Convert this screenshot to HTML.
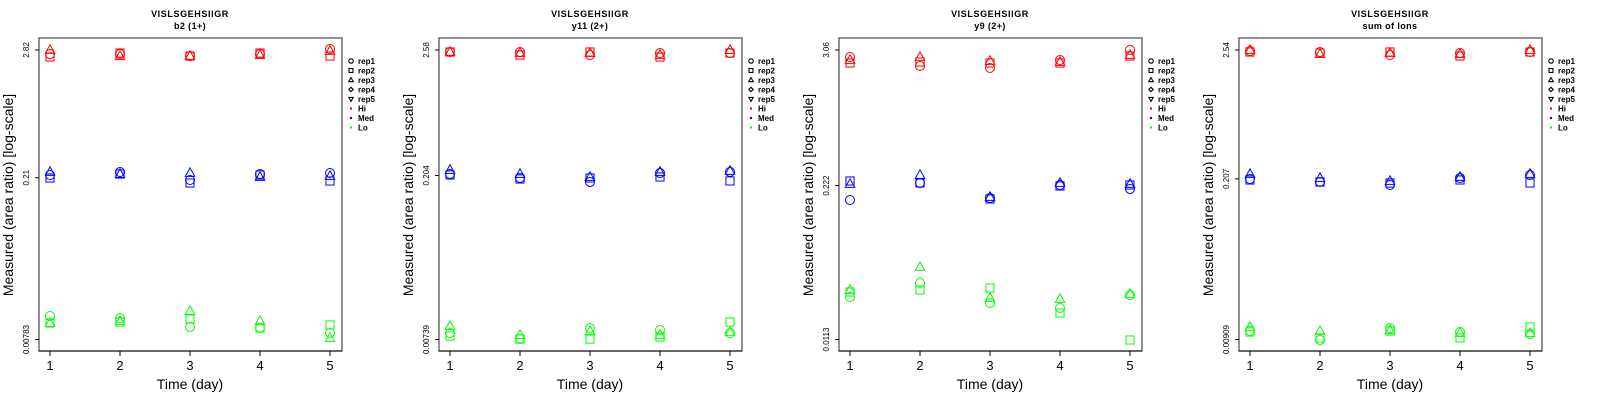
<!DOCTYPE html>
<html><head><meta charset="utf-8"><style>
html,body{margin:0;padding:0;background:#fff;width:1600px;height:400px;overflow:hidden}
svg{display:block;font-family:"Liberation Sans",sans-serif}
</style></head><body>
<svg id="chart" width="1600" height="400" viewBox="0 0 1600 400" xmlns="http://www.w3.org/2000/svg"></svg>
<script>
const days = [1, 2, 3, 4, 5];
const panelTitles = ["VISLSGEHSIIGR", "VISLSGEHSIIGR", "VISLSGEHSIIGR", "VISLSGEHSIIGR"];
const panelSubtitles = ["b2 (1+)", "y11 (2+)", "y9 (2+)", "sum of Ions"];
const yTickValues = [[2.82, 0.21, 0.00783], [2.58, 0.204, 0.00739], [3.06, 0.222, 0.0113], [2.54, 0.207, 0.00909]];
const yTickLabels = [["2.82", "0.21", "0.00783"], ["2.58", "0.204", "0.00739"], ["3.06", "0.222", "0.0113"], ["2.54", "0.207", "0.00909"]];
const legendLabels = ["rep1", "rep2", "rep3", "rep4", "rep5", "Hi", "Med", "Lo"];
// per panel, per day: [rep1, rep2, rep3]
const hiP1 = [[2.598, 2.444, 2.82], [2.598, 2.652, 2.494], [2.494, 2.494, 2.494], [2.598, 2.652, 2.546], [2.878, 2.494, 2.763]];
const medP1 = [[0.2221, 0.2089, 0.236], [0.236, 0.2266, 0.2266], [0.2006, 0.1887, 0.2313], [0.2266, 0.2221, 0.2132], [0.2313, 0.1966, 0.2176]];
const loP1 = [[0.01263, 0.01095, 0.01095], [0.01212, 0.01118, 0.01141], [0.0101, 0.01188, 0.01398], [0.00989, 0.00989, 0.01141], [0.00894, 0.01052, 0.00807]];
const hiP2 = [[2.477, 2.477, 2.477], [2.477, 2.33, 2.427], [2.33, 2.477, 2.427], [2.427, 2.237, 2.33], [2.427, 2.427, 2.58]];
const medP2 = [[0.2102, 0.206, 0.2279], [0.1939, 0.19, 0.2102], [0.1788, 0.1939, 0.1978], [0.2145, 0.1978, 0.2189], [0.2189, 0.1825, 0.2233]];
const loP2 = [[0.00843, 0.00793, 0.00971], [0.00746, 0.00746, 0.00809], [0.00933, 0.00746, 0.00878], [0.00896, 0.00777, 0.00809], [0.00843, 0.01053, 0.0086]];
const hiP3 = [[2.672, 2.379, 2.522], [2.245, 2.426, 2.672], [2.16, 2.379, 2.473], [2.522, 2.379, 2.426], [3.06, 2.725, 2.778]];
const medP3 = [[0.168, 0.2427, 0.229], [0.2335, 0.2335, 0.2726], [0.1746, 0.1713, 0.178], [0.2246, 0.2203, 0.2335], [0.2079, 0.2246, 0.229]];
const loP3 = [[0.02571, 0.02833, 0.02944], [0.03372, 0.02944, 0.04595], [0.0229, 0.03061, 0.02522], [0.02079, 0.01887, 0.02474], [0.02673, 0.01119, 0.02725]];
const hiP4 = [[2.491, 2.443, 2.54], [2.443, 2.396, 2.35], [2.305, 2.443, 2.396], [2.396, 2.26, 2.35], [2.443, 2.443, 2.54]];
const medP4 = [[0.2064, 0.2025, 0.2275], [0.1948, 0.1948, 0.2105], [0.1837, 0.191, 0.1986], [0.2105, 0.2025, 0.2146], [0.2231, 0.191, 0.2275]];
const loP4 = [[0.01072, 0.01052, 0.01159], [0.009, 0.00936, 0.01072], [0.01137, 0.01072, 0.01093], [0.01052, 0.00936, 0.01032], [0.01012, 0.01159, 0.01032]];

const panelData = [[hiP1, medP1, loP1], [hiP2, medP2, loP2], [hiP3, medP3, loP3], [hiP4, medP4, loP4]];
const groupColors = ["#ff0000", "#0000ff", "#00ff00"];
const groupNames = ["hi", "med", "lo"];
const NS = "http://www.w3.org/2000/svg";
const svg = document.getElementById("chart");
function mk(tag, attrs, parent, txt) {
  const e = document.createElementNS(NS, tag);
  for (const k in attrs) e.setAttribute(k, attrs[k]);
  if (txt !== undefined) e.textContent = txt;
  parent.appendChild(e);
  return e;
}
function marker(shape, cx, cy, r, color, parent, sw) {
  let e;
  if (shape === 0) e = mk("circle", {cx: cx, cy: cy, r: r, fill: "none", stroke: color, "stroke-width": sw}, parent);
  else if (shape === 1) e = mk("rect", {x: cx - r * 0.9, y: cy - r * 0.9, width: r * 1.8, height: r * 1.8, fill: "none", stroke: color, "stroke-width": sw}, parent);
  else if (shape === 2) e = mk("polygon", {points: `${cx},${cy - r * 1.15} ${cx - r * 1.05},${cy + r * 0.75} ${cx + r * 1.05},${cy + r * 0.75}`, fill: "none", stroke: color, "stroke-width": sw}, parent);
  else if (shape === 3) e = mk("polygon", {points: `${cx},${cy - r} ${cx + r},${cy} ${cx},${cy + r} ${cx - r},${cy}`, fill: "none", stroke: color, "stroke-width": sw}, parent);
  else e = mk("polygon", {points: `${cx},${cy + r * 1.1} ${cx - r},${cy - r * 0.7} ${cx + r},${cy - r * 0.7}`, fill: "none", stroke: color, "stroke-width": sw}, parent);
  return e;
}
const X0 = 39, X1 = 342, Y0 = 38, Y1 = 351, YT = 50, YB = 339.5;
panelData.forEach((pd, p) => {
  const ox = p * 400;
  const g = mk("g", {transform: `translate(${ox},0)`}, svg);
  
  
  const top = yTickValues[p][0], bot = yTickValues[p][2];
  const yS = v => YT + (Math.log(top) - Math.log(v)) / (Math.log(top) - Math.log(bot)) * (YB - YT);
  const xS = d => 50 + (d - 1) * 70;
  const t1 = mk("text", {x: 190, y: 17, "text-anchor": "middle", "font-size": 9, "font-weight": "bold", "letter-spacing": "0.6"}, g, panelTitles[p]);
  
  
  const t2 = mk("text", {x: 190, y: 29, "text-anchor": "middle", "font-size": 9, "font-weight": "bold", "letter-spacing": "0.4"}, g, panelSubtitles[p]);
  
  
  const box = mk("rect", {x: X0, y: Y0, width: X1 - X0, height: Y1 - Y0, fill: "none", stroke: "#555", "stroke-width": 1.3}, g);
  
  
  const xa = mk("line", {x1: X0, y1: Y1, x2: X1, y2: Y1, stroke: "#000", "stroke-width": 1}, g);
  
  
  days.forEach(d => {
    mk("line", {x1: xS(d), y1: Y1, x2: xS(d), y2: Y1 + 5, stroke: "#000"}, g);
    const tl = mk("text", {x: xS(d), y: 370, "text-anchor": "middle", "font-size": 13}, g, String(d));
    
    
  });
  yTickValues[p].forEach((v, i) => {
    const y = yS(v);
    mk("line", {x1: X0 - 4, y1: y, x2: X0, y2: y, stroke: "#000"}, g);
    const tl = mk("text", {x: 0, y: 0, transform: `translate(29,${y}) rotate(-90)`, "text-anchor": "middle", "font-size": 8}, g, yTickLabels[p][i]);
    
    
  });
  const xl = mk("text", {x: 190, y: 389, "text-anchor": "middle", "font-size": 14}, g, "Time (day)");
  
  
  const yl = mk("text", {x: 0, y: 0, transform: "translate(13,195) rotate(-90)", "text-anchor": "middle", "font-size": 14}, g, "Measured (area ratio) [log-scale]");
  
  
  pd.forEach((grp, gi) => {
    grp.forEach((reps, di) => {
      reps.forEach((v, ri) => {
        const m = marker(ri, xS(days[di]), yS(v), 4.5, groupColors[gi], g, 1);
        
        
      });
    });
  });
  const lg = mk("g", {}, g);
  
  
  legendLabels.forEach((lab, i) => {
    const y = 61 + i * 9.5;
    if (i < 5) {
      const s = marker(i, 351, y, 2.2, "#000", lg, 1.1);
      
      
    } else {
      const s = mk("circle", {cx: 351, cy: y, r: 1.2, fill: groupColors[i - 5]}, lg);
      
      
    }
    const t = mk("text", {x: 358, y: y + 3, "font-size": 8, "font-weight": "bold"}, lg, lab);
    
    
  });
});
</script>
</body></html>
